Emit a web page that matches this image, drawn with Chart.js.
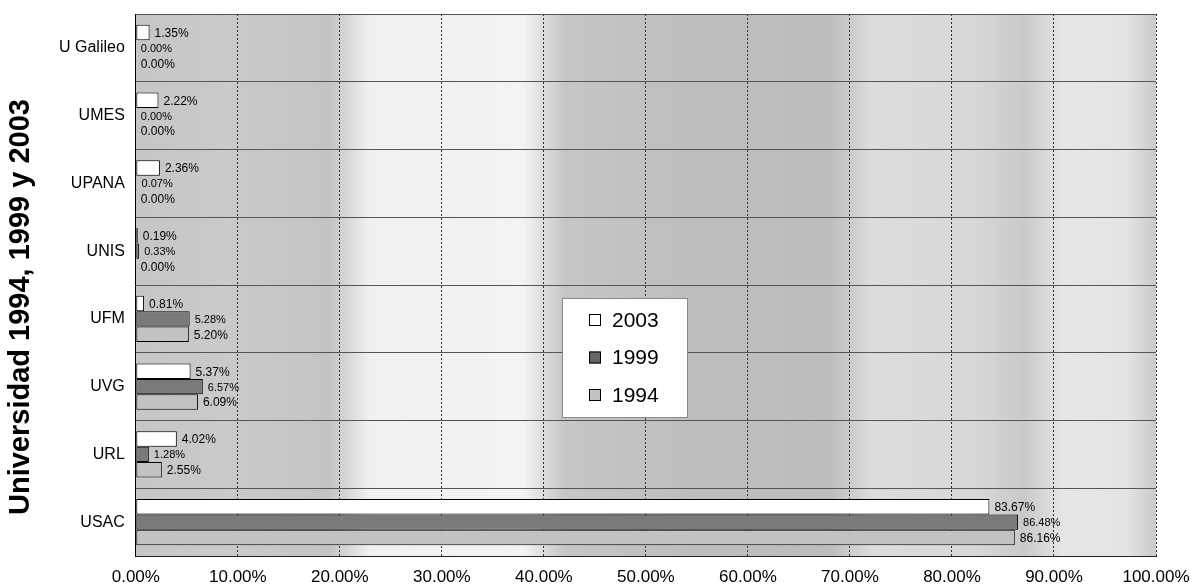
<!DOCTYPE html>
<html>
<head>
<meta charset="utf-8">
<script src="https://cdn.jsdelivr.net/npm/chart.js@4.4.1/dist/chart.umd.min.js"></script>
<style>
  html, body { margin: 0; padding: 0; background: #fff; }
  #wrap { width: 1193px; height: 588px; position: relative; }
</style>
</head>
<body>
<div id="wrap"><canvas id="universidadesChart"></canvas></div>
<script>
// Datos (porcentaje por universidad)
const universidades = ["U Galileo", "UMES", "UPANA", "UNIS", "UFM", "UVG", "URL", "USAC"];
const anios = ["2003", "1999", "1994"];
const datos2003 = [1.35, 2.22, 2.36, 0.19, 0.81, 5.37, 4.02, 83.67];
const datos1999 = [0.00, 0.00, 0.07, 0.33, 5.28, 6.57, 1.28, 86.48];
const datos1994 = [0.00, 0.00, 0.00, 0.00, 5.20, 6.09, 2.55, 86.16];
const ticksX = [0, 10, 20, 30, 40, 50, 60, 70, 80, 90, 100];
const tituloEje = "Universidad 1994, 1999 y 2003";

const fuente = "'Liberation Sans', Arial, sans-serif";
const pct = v => v.toFixed(2) + "%";

// Fondo gris irregular del area de trazado
const fondoPlugin = {
    id: "fondo",
    beforeDraw(chart) {
        const { ctx, chartArea: a } = chart;
        const g = ctx.createLinearGradient(a.left, 0, a.right, 0);
        [[0, "#c6c6c6"], [0.09, "#cacaca"], [0.19, "#c4c4c4"], [0.23, "#f1f1f1"],
         [0.38, "#f3f3f3"], [0.42, "#c6c6c6"], [0.55, "#bdbdbd"], [0.68, "#bcbcbc"],
         [0.72, "#dcdcdc"], [0.82, "#d8d8d8"], [0.87, "#c9c9c9"], [0.91, "#e6e6e6"],
         [0.97, "#e4e4e4"], [1, "#cacaca"]].forEach(([p, c]) => g.addColorStop(p, c));
        ctx.save();
        ctx.fillStyle = g;
        ctx.fillRect(a.left, a.top, a.right - a.left, a.bottom - a.top);
        ctx.restore();
    },
};

// Etiquetas de valor al final de cada barra
const etiquetasPlugin = {
    id: "etiquetas",
    afterDatasetsDraw(chart) {
        const ctx = chart.ctx;
        ctx.save();
        ctx.fillStyle = "#000";
        ctx.textBaseline = "middle";
        ctx.textAlign = "left";
        chart.data.datasets.forEach((ds, i) => {
            ctx.font = (i === 1 ? "11px " : "12px ") + fuente;
            chart.getDatasetMeta(i).data.forEach((bar, j) => {
                ctx.fillText(pct(ds.data[j]), bar.x + 5, bar.y + 1);
            });
        });
        ctx.restore();
    },
};

// Leyenda dentro del grafico y titulo del eje
const leyendaPlugin = {
    id: "leyendaInterna",
    afterDraw(chart) {
        const ctx = chart.ctx;
        ctx.save();
        ctx.fillStyle = "#fff";
        ctx.fillRect(562, 298, 126, 120);
        ctx.strokeStyle = "#8a8a8a";
        ctx.lineWidth = 1;
        ctx.strokeRect(562.5, 298.5, 125, 119);
        ctx.font = "21px " + fuente;
        ctx.textBaseline = "middle";
        chart.data.datasets.forEach((ds, i) => {
            const y = 320 + i * 37.5;
            ctx.fillStyle = i === 1 ? "#666" : ds.backgroundColor;
            ctx.fillRect(589, y - 6, 12, 12);
            ctx.strokeStyle = "#000";
            ctx.strokeRect(589.5, y - 5.5, 11, 11);
            ctx.fillStyle = "#000";
            ctx.fillText(ds.label, 612, y + 1);
        });

        ctx.translate(21, 307);
        ctx.rotate(-Math.PI / 2);
        ctx.textAlign = "center";
        ctx.font = "bold 29px " + fuente;
        ctx.fillText(tituloEje, 0, 0);
        ctx.restore();
    },
};

new Chart(document.getElementById("universidadesChart"), {
    type: "bar",
    data: {
        labels: universidades,
        datasets: [{
            label: anios[0],
            data: datos2003,
            backgroundColor: "#ffffff",
        }, {
            label: anios[1],
            data: datos1999,
            backgroundColor: "#7a7a7a",
        }, {
            label: anios[2],
            data: datos1994,
            backgroundColor: "#c2c2c2",
        }],
    },
    options: {
        indexAxis: "y",
        responsive: true,
        maintainAspectRatio: false,
        animation: false,
        datasets: {
            bar: {
                borderColor: "#000",
                borderWidth: 1,
                borderSkipped: false,
                categoryPercentage: 0.68,
                barPercentage: 1,
            },
        },
        layout: { padding: { left: 48, top: 14, right: 37, bottom: 0 } },
        plugins: {
            legend: { display: false },
            tooltip: { enabled: false },
        },
        scales: {
            x: {
                min: 0,
                max: 100,
                afterBuildTicks: axis => { axis.ticks = ticksX.map(v => ({ value: v })); },
                afterFit: axis => {
                    axis.height = 32;
                    axis.paddingLeft = 0;
                    axis.paddingRight = 0;
                },
                ticks: {
                    callback: v => pct(v),
                    color: "#000",
                    font: { family: fuente, size: 17 },
                    padding: 11,
                    maxRotation: 0,
                },
                grid: { color: "#333", drawTicks: false },
                border: { display: true, color: "#222", dash: [2, 2] },
            },
            y: {
                afterFit: axis => {
                    axis.paddingTop = 0;
                    axis.paddingBottom = 0;
                },
                ticks: {
                    color: "#000",
                    font: { family: fuente, size: 16 },
                    padding: 11,
                },
                grid: { color: "#555", drawTicks: false, offset: true },
                border: { display: true, color: "#000", width: 1 },
            },
        },
    },
    plugins: [fondoPlugin, etiquetasPlugin, leyendaPlugin],
});
</script>
</body>
</html>
